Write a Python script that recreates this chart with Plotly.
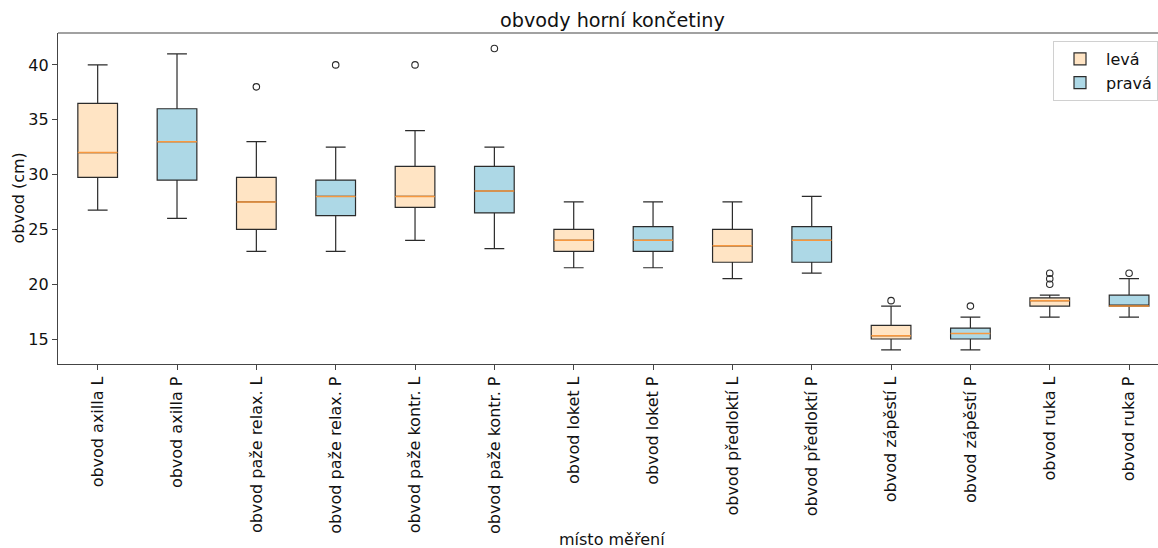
import plotly.graph_objects as go

categories = [
    "obvod axilla L", "obvod axilla P",
    "obvod paže relax. L", "obvod paže relax. P",
    "obvod paže kontr. L", "obvod paže kontr. P",
    "obvod loket L", "obvod loket P",
    "obvod předloktí L", "obvod předloktí P",
    "obvod zápěstí L", "obvod zápěstí P",
    "obvod ruka L", "obvod ruka P",
]
lower_whisker = [26.75, 26.0, 23.0, 23.0, 24.0, 23.25, 21.5, 21.5, 20.5, 21.0, 14.0, 14.0, 17.0, 17.0]
q1 = [29.75, 29.5, 25.0, 26.25, 27.0, 26.5, 23.0, 23.0, 22.0, 22.0, 15.0, 15.0, 18.0, 18.0]
median = [32.0, 33.0, 27.5, 28.0, 28.0, 28.5, 24.0, 24.0, 23.5, 24.0, 15.3, 15.5, 18.5, 18.0]
q3 = [36.5, 36.0, 29.75, 29.5, 30.75, 30.75, 25.0, 25.25, 25.0, 25.25, 16.25, 16.0, 18.75, 19.0]
upper_whisker = [40.0, 41.0, 33.0, 32.5, 34.0, 32.5, 27.5, 27.5, 27.5, 28.0, 18.0, 17.0, 19.0, 20.5]

outlier_cat = ["obvod paže relax. L", "obvod paže relax. P", "obvod paže kontr. L",
               "obvod paže kontr. P", "obvod zápěstí L", "obvod zápěstí P",
               "obvod ruka L", "obvod ruka L", "obvod ruka L", "obvod ruka P"]
outlier_val = [38.0, 40.0, 40.0, 41.5, 18.5, 18.0, 20.0, 20.5, 21.0, 21.0]

series_names = ["levá", "pravá"]
series_colors = ["#FFE4C4", "#ADD8E6"]

positions = list(range(1, len(categories) + 1))
box_w = 0.5
edge = "#2b2b2b"
font_family = "DejaVu Sans"
fs = 16

fig = go.Figure()
for s in range(2):
    idx = [i for i in range(len(categories)) if i % 2 == s]
    fig.add_trace(go.Box(
        x=[positions[i] for i in idx],
        q1=[q1[i] for i in idx],
        median=[median[i] for i in idx],
        q3=[q3[i] for i in idx],
        lowerfence=[lower_whisker[i] for i in idx],
        upperfence=[upper_whisker[i] for i in idx],
        name=series_names[s],
        fillcolor=series_colors[s],
        line=dict(color=edge, width=1.2),
        width=box_w,
        whiskerwidth=0.5,
        boxpoints=False,
        hoverinfo="skip",
    ))

# median lines
mx, my = [], []
for p, m in zip(positions, median):
    mx += [p - box_w / 2, p + box_w / 2, None]
    my += [m, m, None]
fig.add_trace(go.Scatter(x=mx, y=my, mode="lines",
                         line=dict(color="#f7983f", width=1.5),
                         showlegend=False, hoverinfo="skip"))

# outliers
ox = [positions[categories.index(c)] for c in outlier_cat]
fig.add_trace(go.Scatter(x=ox, y=outlier_val, mode="markers",
                         marker=dict(symbol="circle-open", size=6.5,
                                     color=edge, line=dict(width=1.1)),
                         showlegend=False, hoverinfo="skip"))

W, H = 1158, 548
L, R, T, B = 58, 0, 33, 184
pw = W - L - R
ph = H - T - B
unit_px = 79.34
x_hi = 0.5 + pw / unit_px

fig.update_layout(
    width=W, height=H,
    margin=dict(l=L, r=R, t=T, b=B, pad=0),
    paper_bgcolor="white", plot_bgcolor="white",
    boxmode="overlay",
    font=dict(family=font_family, size=fs, color="#111"),
    showlegend=True,
    legend=dict(x=1.0, xanchor="right", y=0.976, yanchor="top",
                bgcolor="rgba(255,255,255,0.8)", bordercolor="#d0d0d0",
                borderwidth=1, font=dict(size=fs, family=font_family),
                itemwidth=42, tracegroupgap=0),
    xaxis=dict(range=[0.5, x_hi], tickmode="array", tickvals=positions,
               ticktext=categories, tickangle=-90, showgrid=False,
               zeroline=False, showline=True, linecolor="#444", linewidth=1.2,
               ticks="outside", ticklen=5, tickcolor="#444",
               tickfont=dict(size=fs, family=font_family, color="#111")),
    yaxis=dict(range=[12.72, 42.91], tickvals=[15, 20, 25, 30, 35, 40],
               showgrid=False, zeroline=False, showline=True, linecolor="#444",
               linewidth=1.2, ticks="outside", ticklen=5, tickcolor="#444",
               tickfont=dict(size=fs, family=font_family, color="#111")),
    shapes=[dict(type="line", xref="paper", yref="paper", x0=0, x1=1, y0=1, y1=1,
                 line=dict(color="#444", width=1.2))],
    annotations=[
        dict(text="obvody horní končetiny", xref="paper", yref="paper",
             x=(612.5 - L) / pw, y=1, xanchor="center", yanchor="bottom",
             yshift=-1, showarrow=False, font=dict(size=19.2, family=font_family, color="#111")),
        dict(text="místo měření", xref="paper", yref="paper",
             x=(612 - L) / pw, y=-(539 - (T + ph)) / ph, xanchor="center",
             yanchor="middle", showarrow=False,
             font=dict(size=fs, family=font_family, color="#111")),
        dict(text="obvod (cm)", xref="paper", yref="paper",
             x=(18 - L) / pw, y=0.5, xanchor="center", yanchor="middle",
             textangle=-90, showarrow=False,
             font=dict(size=fs, family=font_family, color="#111")),
    ],
)

fig.write_html("out.html", config={"displayModeBar": False},
               post_script="document.body.style.margin='0';")
